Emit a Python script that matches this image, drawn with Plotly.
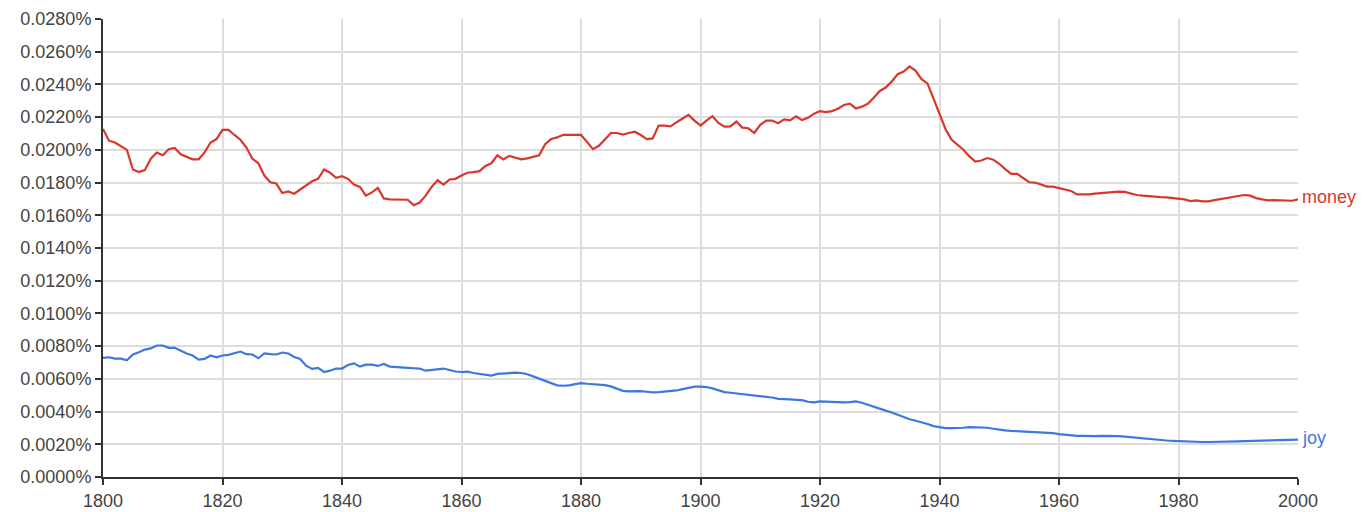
import plotly.graph_objects as go

years = list(range(1800, 2001))

money = [
    0.02128, 0.02056, 0.02045, 0.02025, 0.02000, 0.01880, 0.01864, 0.01876, 0.01946, 0.01984,
    0.01967, 0.02004, 0.02012, 0.01973, 0.01959, 0.01942, 0.01942, 0.01984, 0.02045, 0.02066,
    0.02122, 0.02122, 0.02091, 0.02062, 0.02014, 0.01946, 0.01918, 0.01843, 0.01802, 0.01794,
    0.01736, 0.01746, 0.01732, 0.01757, 0.01781, 0.01808, 0.01823, 0.01880, 0.01860, 0.01829,
    0.01839, 0.01823, 0.01788, 0.01773, 0.01720, 0.01740, 0.01767, 0.01703, 0.01697, 0.01695,
    0.01695, 0.01695, 0.01662, 0.01678, 0.01720, 0.01773, 0.01814, 0.01788, 0.01819, 0.01823,
    0.01843, 0.01860, 0.01864, 0.01870, 0.01901, 0.01918, 0.01967, 0.01942, 0.01963, 0.01953,
    0.01942, 0.01948, 0.01957, 0.01967, 0.02035, 0.02066, 0.02076, 0.02091, 0.02091, 0.02091,
    0.02091, 0.02049, 0.02004, 0.02025, 0.02062, 0.02103, 0.02103, 0.02093, 0.02103, 0.02111,
    0.02091, 0.02066, 0.02070, 0.02148, 0.02148, 0.02144, 0.02169, 0.02194, 0.02214, 0.02179,
    0.02148, 0.02179, 0.02206, 0.02165, 0.02142, 0.02144, 0.02173, 0.02136, 0.02132, 0.02103,
    0.02153, 0.02179, 0.02179, 0.02163, 0.02186, 0.02180, 0.02205, 0.02182, 0.02196, 0.02221,
    0.02237, 0.02231, 0.02237, 0.02251, 0.02274, 0.02282, 0.02253, 0.02264, 0.02282, 0.02319,
    0.02360, 0.02381, 0.02417, 0.02463, 0.02479, 0.02510, 0.02483, 0.02432, 0.02405, 0.02313,
    0.02216, 0.02128, 0.02063, 0.02032, 0.02001, 0.01960, 0.01929, 0.01935, 0.01950, 0.01940,
    0.01915, 0.01882, 0.01853, 0.01853, 0.01826, 0.01802, 0.01800, 0.01786, 0.01775, 0.01775,
    0.01765, 0.01755, 0.01749, 0.01728, 0.01726, 0.01728, 0.01732, 0.01735, 0.01740, 0.01745,
    0.01745, 0.01743, 0.01732, 0.01724, 0.01720, 0.01716, 0.01713, 0.01711, 0.01709, 0.01705,
    0.01699, 0.01697, 0.01687, 0.01691, 0.01685, 0.01685, 0.01693, 0.01699, 0.01705, 0.01711,
    0.01718, 0.01724, 0.01720, 0.01705, 0.01697, 0.01691, 0.01693, 0.01693, 0.01689, 0.01689,
    0.01697,
]

joy = [
    0.00728, 0.00732, 0.00724, 0.00724, 0.00714, 0.00749, 0.00763, 0.00779, 0.00786, 0.00804,
    0.00804, 0.00790, 0.00790, 0.00771, 0.00755, 0.00743, 0.00718, 0.00722, 0.00743, 0.00732,
    0.00743, 0.00747, 0.00759, 0.00767, 0.00751, 0.00749, 0.00726, 0.00755, 0.00751, 0.00749,
    0.00761, 0.00755, 0.00734, 0.00722, 0.00681, 0.00661, 0.00667, 0.00642, 0.00650, 0.00663,
    0.00663, 0.00685, 0.00695, 0.00675, 0.00687, 0.00687, 0.00679, 0.00691, 0.00675, 0.00671,
    0.00669, 0.00667, 0.00665, 0.00663, 0.00650, 0.00654, 0.00656, 0.00663, 0.00654, 0.00645,
    0.00642, 0.00644, 0.00636, 0.00630, 0.00624, 0.00620, 0.00630, 0.00632, 0.00638, 0.00638,
    0.00636, 0.00628, 0.00615, 0.00601, 0.00585, 0.00570, 0.00560, 0.00558, 0.00560, 0.00568,
    0.00574, 0.00570, 0.00568, 0.00564, 0.00562, 0.00554, 0.00540, 0.00527, 0.00523, 0.00525,
    0.00525, 0.00521, 0.00517, 0.00519, 0.00521, 0.00523, 0.00529, 0.00537, 0.00546, 0.00552,
    0.00552, 0.00550, 0.00542, 0.00529, 0.00519, 0.00515, 0.00511, 0.00507, 0.00503, 0.00498,
    0.00496, 0.00494, 0.00486, 0.00478, 0.00474, 0.00474, 0.00472, 0.00470, 0.00460, 0.00456,
    0.00462, 0.00460, 0.00458, 0.00456, 0.00456, 0.00458, 0.00462, 0.00454, 0.00441, 0.00429,
    0.00416, 0.00406, 0.00394, 0.00379, 0.00365, 0.00353, 0.00344, 0.00336, 0.00324, 0.00311,
    0.00303, 0.00299, 0.00299, 0.00299, 0.00301, 0.00305, 0.00305, 0.00305, 0.00301, 0.00295,
    0.00289, 0.00285, 0.00282, 0.00280, 0.00278, 0.00278, 0.00276, 0.00274, 0.00272, 0.00268,
    0.00262, 0.00258, 0.00254, 0.00252, 0.00252, 0.00250, 0.00250, 0.00252, 0.00252, 0.00250,
    0.00250, 0.00247, 0.00243, 0.00239, 0.00235, 0.00232, 0.00228, 0.00226, 0.00223, 0.00221,
    0.00219, 0.00217, 0.00215, 0.00214, 0.00214, 0.00214, 0.00214, 0.00215, 0.00216, 0.00217,
    0.00218, 0.00219, 0.00220, 0.00221, 0.00223, 0.00225, 0.00226, 0.00227, 0.00227, 0.00227,
    0.00228,
]

series_names = ["money", "joy"]
series_colors = ["#d9362c", "#3c78e0"]
y_ticks = [i * 0.002 for i in range(15)]
y_tick_labels = [f"{v:.4f}%" for v in y_ticks]
x_ticks = list(range(1800, 2001, 20))

FONT = "Arial, 'Liberation Sans', sans-serif"

fig = go.Figure()
for name, vals, col in zip(series_names, [money, joy], series_colors):
    fig.add_trace(go.Scatter(
        x=years, y=vals, mode="lines", name=name,
        line=dict(color=col, width=2.2),
        hoverinfo="x+y",
    ))
    fig.add_annotation(
        x=years[-1], y=vals[-1], text=name, showarrow=False,
        xanchor="left", yanchor="middle", xshift=2, yshift=2,
        font=dict(family=FONT, size=18, color=col),
    )

fig.update_layout(
    width=1369, height=512,
    margin=dict(l=95, r=79, t=11, b=43, autoexpand=False),
    paper_bgcolor="white", plot_bgcolor="white",
    showlegend=False,
    font=dict(family=FONT, size=18, color="#444444"),
)
fig.update_xaxes(
    range=[1800, 2000], tickvals=x_ticks, ticktext=[str(t) for t in x_ticks],
    showgrid=True, gridcolor="#dddddd", gridwidth=1.5,
    showline=True, linecolor="#333333", linewidth=2,
    ticks="outside", ticklen=6, tickwidth=2, tickcolor="#333333",
    tickfont=dict(family=FONT, size=18, color="#444444"),
    zeroline=False, automargin=False,
)
fig.update_yaxes(
    range=[0, 0.028], tickvals=y_ticks, ticktext=y_tick_labels,
    showgrid=True, gridcolor="#dddddd", gridwidth=1.5,
    showline=True, linecolor="#333333", linewidth=2,
    ticks="outside", ticklen=6, tickwidth=2, tickcolor="#333333",
    tickfont=dict(family=FONT, size=18, color="#444444"),
    zeroline=False, automargin=False,
)

fig.write_html("out.html")
